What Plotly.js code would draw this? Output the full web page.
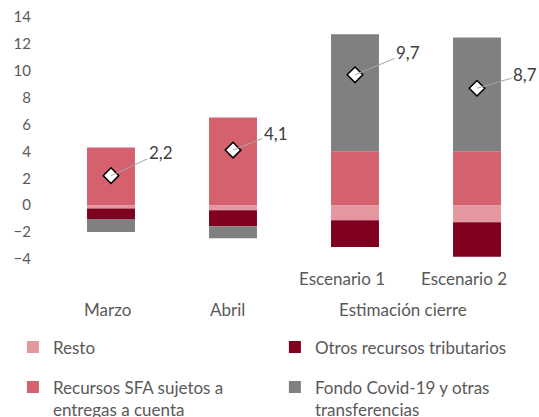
<!DOCTYPE html>
<html>
<head>
<meta charset="utf-8">
<script src="https://cdn.plot.ly/plotly-3.0.1.min.js"></script>
<style>html,body{margin:0;padding:0;background:#fff;}#chart{width:539px;height:417px;}</style>
</head>
<body>
<div id="chart"></div>
<script>
// Categories
const periods = ['Marzo', 'Abril', 'Escenario 1', 'Escenario 2'];
const tickLabels = ['', '', 'Escenario 1', 'Escenario 2'];
const groupLabels = ['Marzo', 'Abril', 'Estimación cierre'];

// Series
const resto = [-0.25, -0.37, -1.12, -1.26];
const otrosTributarios = [-0.77, -1.19, -1.98, -2.58];
const recursosSFA = [4.29, 6.52, 4.02, 4.02];
const fondoCovid = [-0.97, -0.89, 8.70, 8.45];
const total = [2.2, 4.1, 9.7, 8.7];
const totalLabels = ['2,2', '4,1', '9,7', '8,7'];

const seriesNames = ['Resto', 'Otros recursos tributarios', 'Recursos SFA sujetos a<br>entregas a cuenta', 'Fondo Covid-19 y otras<br>transferencias'];
const seriesColors = ['#E5979F', '#800020', '#D5616F', '#808080'];
const seriesValues = [resto, otrosTributarios, recursosSFA, fondoCovid];
const legendIds = ['legend', 'legend2', 'legend3', 'legend4'];

const textColor = '#595959';
const fontFamily = 'Lato, "Open Sans", sans-serif';

const traces = seriesValues.map((vals, i) => ({
  type: 'bar',
  name: seriesNames[i],
  legend: legendIds[i],
  x: periods,
  y: vals,
  marker: {color: seriesColors[i], line: {width: 0}},
  hoverinfo: 'skip'
}));

traces.push({
  type: 'scatter',
  mode: 'markers',
  x: periods,
  y: total,
  showlegend: false,
  marker: {symbol: 'diamond', size: 12, color: '#ffffff', line: {color: '#000000', width: 1.5}},
  hoverinfo: 'skip'
});

const labelOffsets = [[50, -23], [43, -17], [53, -22], [48, -14]];
const annotations = total.map((v, i) => ({
  x: i, y: v, xref: 'x', yref: 'y',
  text: totalLabels[i],
  showarrow: true, arrowhead: 0, arrowwidth: 1, arrowcolor: '#A6A6A6',
  standoff: 0,
  ax: labelOffsets[i][0], ay: labelOffsets[i][1],
  font: {family: fontFamily, size: 17, color: '#404040'}
}));

// Group labels below the axis
const groupX = [0, 1, (periods.indexOf('Escenario 1') + periods.indexOf('Escenario 2')) / 2];
const groupShift = [-4, -6, -13];
groupLabels.forEach((g, i) => {
  annotations.push({
    x: groupX[i], xref: 'x', y: -0.207, yref: 'paper',
    xshift: groupShift[i],
    yanchor: 'middle', showarrow: false, text: g,
    font: {family: fontFamily, size: 17, color: textColor}
  });
});

function legendBox(x, y) {
  return {
    orientation: 'v',
    xref: 'container', yref: 'container',
    x: x, xanchor: 'left', y: y, yanchor: 'top',
    valign: 'top',
    font: {family: fontFamily, size: 17, color: textColor},
    bgcolor: 'rgba(0,0,0,0)'
  };
}

const layout = {
  width: 539, height: 417,
  margin: {l: 50, r: 1, t: 17, b: 158, autoexpand: false},
  paper_bgcolor: '#ffffff', plot_bgcolor: '#ffffff',
  barmode: 'relative',
  bargap: 0.607,
  separators: ',.',
  font: {family: fontFamily, size: 15, color: textColor},
  xaxis: {
    type: 'category',
    tickmode: 'array', tickvals: periods, ticktext: tickLabels,
    showgrid: false, zeroline: false, showline: false,
    ticks: 'outside', ticklen: 5, tickcolor: 'rgba(0,0,0,0)',
    ticklabelshift: -13,
    tickfont: {family: fontFamily, size: 17, color: textColor},
    range: [-0.5, 3.5], fixedrange: true, automargin: false
  },
  yaxis: {
    range: [-4, 14], dtick: 2, tick0: 0,
    showgrid: false, zeroline: false, showline: false,
    ticks: 'outside', ticklen: 15, tickcolor: 'rgba(0,0,0,0)',
    tickfont: {family: fontFamily, size: 15, color: textColor},
    fixedrange: true, automargin: false
  },
  showlegend: true,
  legend: legendBox(0.024, 0.21),
  legend2: legendBox(0.510, 0.21),
  legend3: legendBox(0.024, 0.114),
  legend4: legendBox(0.510, 0.114),
  annotations: annotations
};

Plotly.newPlot('chart', traces, layout, {displayModeBar: false, staticPlot: true});
</script>
</body>
</html>
